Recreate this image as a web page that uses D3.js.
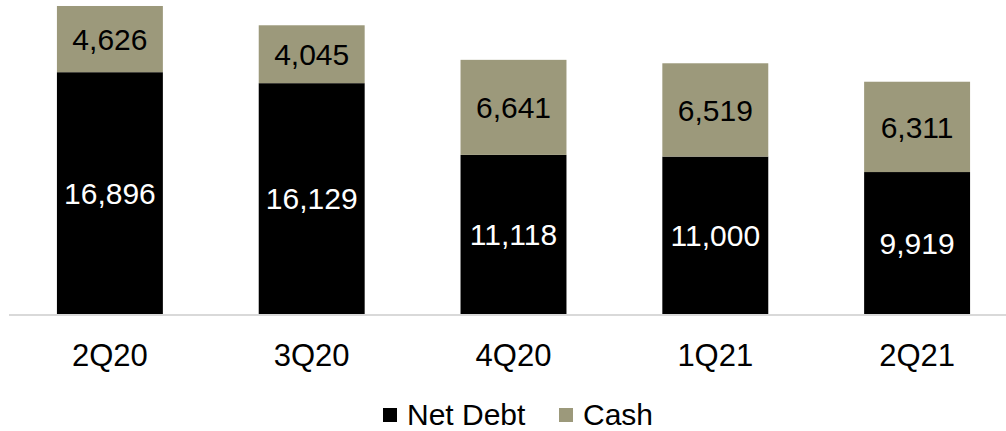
<!DOCTYPE html>
<html><head><meta charset="utf-8">
<script src="https://cdn.jsdelivr.net/npm/d3@7"></script>
<style>body{margin:0;background:#fff;}svg{display:block;font-family:"Liberation Sans",Arial,sans-serif;}</style>
</head><body>
<svg id="c" width="1006" height="431"></svg>
<script>
const categories = ["2Q20","3Q20","4Q20","1Q21","2Q21"];
const netDebt = [16896,16129,11118,11000,9919];
const cash = [4626,4045,6641,6519,6311];
const seriesNames = ["Net Debt","Cash"];
const colors = ["#000000","#9c997b"];

const svg = d3.select("#c");
const x = d3.scaleBand().domain(categories).range([9,1018]).paddingInner(0.475).paddingOuter(0.2375);
const y = d3.scaleLinear().domain([0,22000]).range([314,-0.85]);
const fmt = d3.format(",");

const rows = categories.map((c,i)=>({cat:c, "Net Debt":netDebt[i], "Cash":cash[i]}));
const stack = d3.stack().keys(seriesNames)(rows);

svg.append("line").attr("x1",9).attr("x2",1006).attr("y1",315).attr("y2",315)
  .attr("stroke","#d9d9d9").attr("stroke-width",2);

stack.forEach((s,si)=>{
  const g = svg.append("g");
  g.selectAll("rect").data(s).join("rect")
    .attr("x",d=>x(d.data.cat)).attr("width",x.bandwidth())
    .attr("y",d=>y(d[1])).attr("height",d=>y(d[0])-y(d[1]))
    .attr("fill",colors[si]);
  g.selectAll("text").data(s).join("text")
    .attr("x",d=>x(d.data.cat)+x.bandwidth()/2)
    .attr("y",d=>(y(d[0])+y(d[1]))/2)
    .attr("dy","0.36em").attr("text-anchor","middle")
    .attr("font-size",30).attr("fill",si===0?"#fff":"#000")
    .text(d=>fmt(d[1]-d[0]));
});

svg.append("g").selectAll("text").data(categories).join("text")
  .attr("x",d=>x(d)+x.bandwidth()/2).attr("y",355).attr("dy","0.36em")
  .attr("text-anchor","middle").attr("font-size",31).attr("fill","#000").text(d=>d);

const legend = svg.append("g");
const legX = [383,559];
seriesNames.forEach((n,i)=>{
  legend.append("rect").attr("x",legX[i]).attr("y",408).attr("width",14).attr("height",14).attr("fill",colors[i]);
  legend.append("text").attr("x",legX[i]+24).attr("y",414).attr("dy","0.36em")
    .attr("font-size",30).attr("fill","#000").text(n);
});
</script>
</body></html>
